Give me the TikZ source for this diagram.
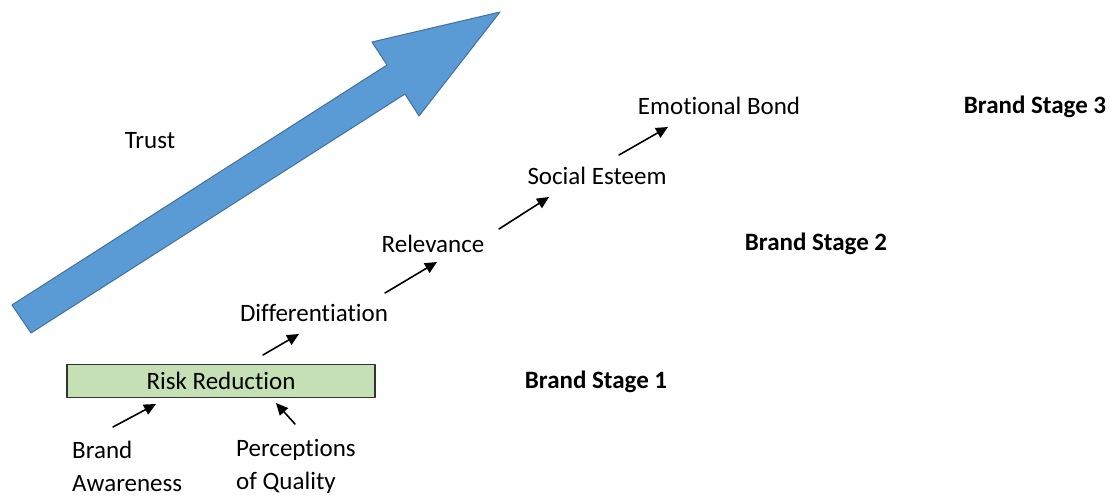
\documentclass[tikz,border=0pt]{standalone}
\usepackage{fontspec}
\setmainfont[Ligatures=NoCommon]{Carlito}
\usetikzlibrary{arrows.meta}
\definecolor{trustblue}{HTML}{5B9BD5}
\definecolor{trustedge}{HTML}{41719C}
\definecolor{riskgreen}{HTML}{C5E0B4}
\begin{document}
\begin{tikzpicture}[line cap=round,line join=round,x=1pt,y=-1pt,
    lbl/.style={inner sep=0pt, font=\fontsize{25}{33}\selectfont},
    stage/.style={lbl, font=\fontsize{25}{33}\selectfont\bfseries},
    up/.style={-{Triangle[length=12pt,width=11pt]}, line width=1.6pt}]
                    \useasboundingbox (0,0) rectangle (1117,497);

                    % trust arrow
                    \draw[fill=trustblue, draw=trustedge, line width=1pt] (12,305) -- (387,65) -- (372,42) -- (500,12) -- (419,116) -- (405,94) -- (31,333) -- cycle;
                    \node[lbl] (trust) at (150,141) {Trust};

                    \node[lbl, draw=black!80, line width=1.2pt, fill=riskgreen, minimum width=308pt, minimum height=33pt] (risk) at (221,381) {Risk Reduction};
                    \node[lbl] (diff) at (314,313) {Differentiation};
                    \node[lbl] (rel) at (433,244) {Relevance};
                    \node[lbl] (soc) at (597,176) {Social Esteem};
                    \node[lbl] (emo) at (719,106) {Emotional Bond};

                    \node[lbl, align=left, anchor=west] (aware) at (72,466) {Brand\\Awareness};
                    \node[lbl, align=left, anchor=west] (qual) at (236,466) {Perceptions\\of Quality};

                    \node[stage] (st1) at (596,382) {Brand Stage 1};
                    \node[stage] (st2) at (816,244) {Brand Stage 2};
                    \node[stage] (st3) at (1035,107) {Brand Stage 3};

                    \draw[up] ([xshift=41pt,yshift=39pt]aware.west) -- ([xshift=-65pt,yshift=-23pt]risk.center);
                    \draw[up] ([xshift=59pt,yshift=42pt]qual.west) -- ([xshift=55pt,yshift=-22pt]risk.center);
                    \draw[up] ([xshift=42pt,yshift=26pt]risk.center) -- ([xshift=-15pt,yshift=-21pt]diff.center);
                    \draw[up] ([xshift=71pt,yshift=20pt]diff.center) -- ([xshift=4pt,yshift=-18pt]rel.center);
                    \draw[up] ([xshift=66pt,yshift=15pt]rel.center) -- ([xshift=-48pt,yshift=-21pt]soc.center);
                    \draw[up] ([xshift=22pt,yshift=21pt]soc.center) -- ([xshift=-51pt,yshift=-21pt]emo.center);
                \end{tikzpicture}
\end{document}
